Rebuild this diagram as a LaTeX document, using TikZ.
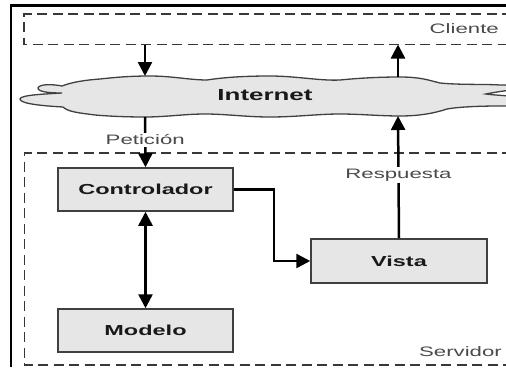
\documentclass[tikz,border=0pt]{standalone}
\usepackage{fontspec}
\setmainfont{Liberation Sans}
\newfontfamily\widesans[FakeStretch=1.62]{Liberation Sans}
\usetikzlibrary{arrows.meta}
\definecolor{boxfill}{HTML}{E6E6E6}
\definecolor{boxline}{HTML}{404040}
\definecolor{labelgray}{HTML}{4A4A4A}
\definecolor{dashgray}{HTML}{383838}
\tikzset{
  dashbox/.style={draw=dashgray, line width=1.6pt, dash pattern=on 10pt off 5.5pt},
  mvcbox/.style={draw=boxline, line width=1.5pt, fill=boxfill, minimum width=175pt,
    minimum height=43pt, inner sep=0pt, text=black!90,
    font=\widesans\bfseries\fontsize{14.5}{17}\selectfont},
  flow/.style={draw=black, line width=2.5pt, -{Triangle[length=14pt,width=14pt]}},
  twoway/.style={draw=black, line width=2.5pt, {Triangle[length=14pt,width=14pt]}-{Triangle[length=14pt,width=14pt]}},
  lbl/.style={fill=white, text=labelgray, inner sep=2pt,
    font=\widesans\fontsize{13.7}{16}\selectfont},
  zone/.style={text=labelgray, inner sep=0pt, font=\widesans\fontsize{13.7}{16}\selectfont},
  cloudshape/.style={draw=boxline, line width=1.3pt, fill=boxfill}
}
\begin{document}
\begin{tikzpicture}[x=1pt, y=-1pt]
\clip (0,0) rectangle (506,367);
\fill[white] (0,0) rectangle (506,367);

% outer frame
\draw[line width=2.6pt] (11,367) -- (11,5.5) -- (506,5.5);

% client and server zones
\draw[dashbox] (512,14) -- (24,14) -- (24,44.5) -- (512,44.5);
\node[zone, anchor=east] (cliente) at (499,29) {Cliente};
\draw[dashbox] (512,153) -- (24.5,153) -- (24.5,365) -- (512,365);
\node[zone, anchor=east] (servidor) at (502,352) {Servidor};

% the Internet cloud
\path[cloudshape] (38,88)
  .. controls (39,84) and (52,84) .. (62,86)
  .. controls (72,82) and (86,80) .. (100,79)
  .. controls (118,77) and (132,76) .. (150,76)
  .. controls (172,76) and (190,80) .. (207,80)
  .. controls (226,77) and (248,76) .. (270,76)
  .. controls (296,76) and (320,81) .. (340,80)
  .. controls (360,78) and (380,77) .. (400,77)
  .. controls (420,77) and (428,80) .. (440,83)
  .. controls (460,85) and (485,84) .. (500,85)
  .. controls (512,85) and (522,86) .. (522,87.5)
  .. controls (522,89) and (500,91) .. (486,94)
  .. controls (500,96) and (530,96) .. (530,101)
  .. controls (530,106) and (512,106) .. (500,106)
  .. controls (478,106) and (458,107) .. (447,109)
  .. controls (435,113) and (420,116) .. (400,116)
  .. controls (380,116) and (360,114) .. (340,114)
  .. controls (318,114) and (296,117) .. (270,117)
  .. controls (246,117) and (226,114) .. (205,114)
  .. controls (185,114) and (166,117) .. (145,117)
  .. controls (124,117) and (106,116) .. (95,115)
  .. controls (80,113) and (68,112) .. (63,107)
  .. controls (45,106) and (20,104) .. (20,99)
  .. controls (20,95) and (45,94) .. (62,93)
  .. controls (50,93) and (38,92) .. (38,88) -- cycle;
\node[text=black!90, font=\widesans\bfseries\fontsize{16}{19}\selectfont] (internet) at (265,95.5) {Internet};

% connection points on the zones and the cloud
\coordinate (cliOut) at (145,44.5);
\coordinate (cliIn) at (398,44.5);
\coordinate (netTopIn) at (145,76);
\coordinate (netTopOut) at (398,77);
\coordinate (netBotOut) at (145,117);
\coordinate (netBotIn) at (398,116);

% MVC components
\node[mvcbox] (ctrl) at (145.5,189.5) {Controlador};
\node[mvcbox] (modelo) at (145.5,330.5) {Modelo};
\node[mvcbox, minimum width=176pt, minimum height=44pt] (vista) at (399,261) {Vista};
\coordinate (bend) at (274,189.5);

% request / response flow
\draw[flow] (cliOut) -- (netTopIn);
\draw[flow] (netTopOut) -- (cliIn);
\draw[flow] (netBotOut) -- node[lbl, pos=0.45] (peticion) {Petición} (ctrl.north);
\draw[flow] (vista.north) -- node[lbl, pos=0.516] (respuesta) {Respuesta} (netBotIn);
\draw[twoway] (ctrl.south) -- (modelo.north);
\draw[flow] (ctrl.east) -- (bend) |- (vista.west);
\end{tikzpicture}
\end{document}
